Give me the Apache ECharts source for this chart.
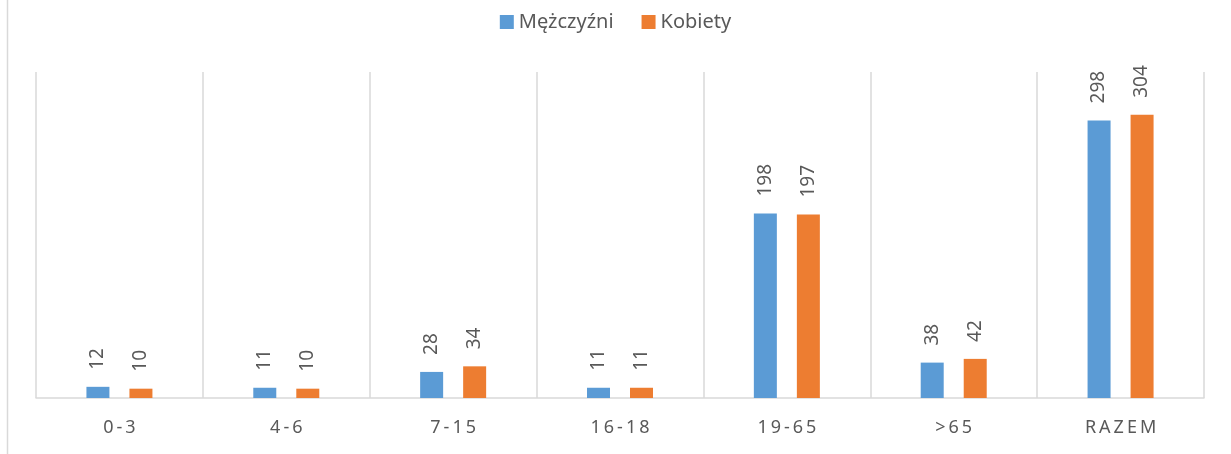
<!DOCTYPE html>
<html>
<head>
<meta charset="utf-8">
<script src="https://cdn.jsdelivr.net/npm/echarts@6/dist/echarts.min.js"></script>
<style>
  html, body { margin: 0; padding: 0; background: #fff; }
  #chart { width: 1231px; height: 454px; }
</style>
</head>
<body>
<div id="chart"></div>
<script>
// dane
const categories = ['0-3', '4-6', '7-15', '16-18', '19-65', '>65', 'RAZEM']
const men = [12, 11, 28, 11, 198, 38, 298]
const women = [10, 10, 34, 11, 197, 42, 304]

const TEXT = '#595959'
const GRID = '#d9d9d9'

const chart = echarts.init(document.getElementById('chart'))

const label = {
  show: true,
  position: 'top',
  rotate: 90,
  align: 'left',
  verticalAlign: 'middle',
  distance: 17,
  color: TEXT,
  fontSize: 19,
  fontFamily: 'Noto Sans'
}

chart.setOption({
  animation: false,
  textStyle: { fontFamily: 'Noto Sans' },
  legend: {
    top: 7,
    left: 'center',
    itemWidth: 14,
    itemHeight: 14,
    itemGap: 28,
    icon: 'rect',
    textStyle: { color: TEXT, fontSize: 20, fontFamily: 'Noto Sans' }
  },
  grid: { left: 36, right: 27, top: 72, bottom: 56 },
  xAxis: {
    type: 'category',
    data: categories,
    axisLine: { lineStyle: { color: GRID, width: 1.5 } },
    axisTick: { show: false },
    splitLine: { show: true, lineStyle: { color: GRID, width: 1.5 } },
    axisLabel: {
      color: TEXT,
      fontSize: 18,
      margin: 21,
      // odstępy między znakami jak w oryginale
      formatter: v => v.split('').join('\u2009')
    }
  },
  yAxis: {
    type: 'value',
    min: 0,
    max: 350,
    show: false,
    splitLine: { show: false }
  },
  series: [
    {
      name: 'Mężczyźni',
      type: 'bar',
      data: men,
      barWidth: 23,
      barGap: '87%',
      itemStyle: { color: '#5b9bd5' },
      label
    },
    {
      name: 'Kobiety',
      type: 'bar',
      data: women,
      barWidth: 23,
      itemStyle: { color: '#ed7d31' },
      label
    }
  ],
  graphic: [{
    type: 'line',
    shape: { x1: 7.5, y1: 0, x2: 7.5, y2: 454 },
    style: { stroke: GRID, lineWidth: 1.5 }
  }]
})
</script>
</body>
</html>
